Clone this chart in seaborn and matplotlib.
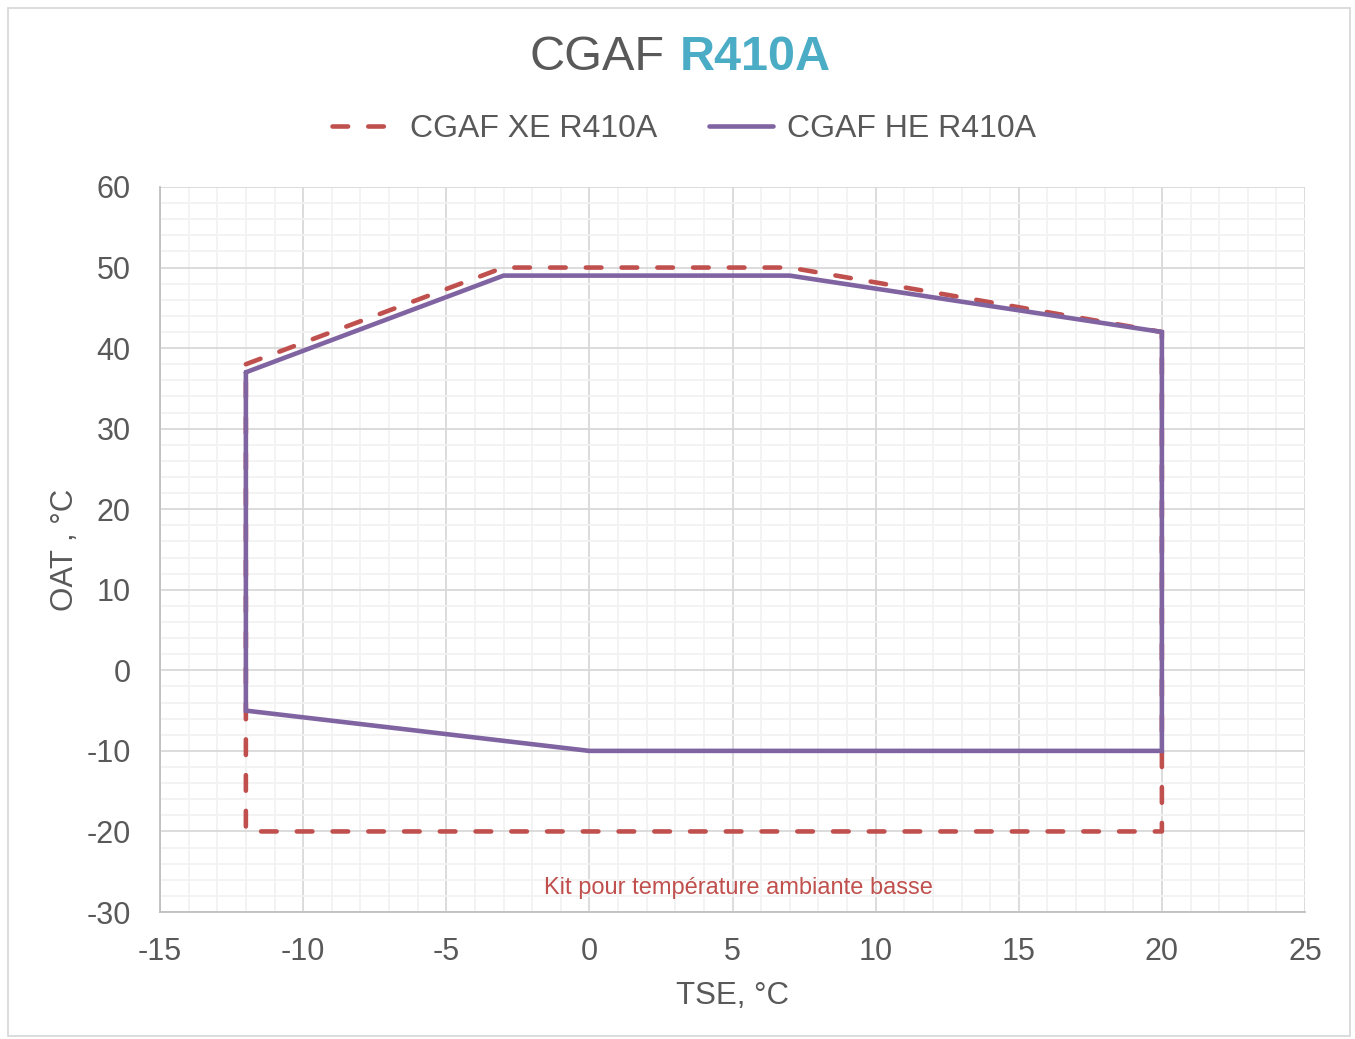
import matplotlib
matplotlib.use("Agg")
import matplotlib.pyplot as plt
from matplotlib.patches import Rectangle
from matplotlib.ticker import MultipleLocator
from matplotlib.lines import Line2D
import seaborn as sns
import pandas as pd

# Data
xe_label = "CGAF XE R410A"
he_label = "CGAF HE R410A"
xe_x = [-12, -3, 7, 20, 20, -12, -12]
xe_y = [38, 50, 50, 42, -20, -20, 38]
he_x = [-12, -3, 7, 20, 20, 0, -12, -12]
he_y = [37, 49, 49, 42, -10, -10, -5, 37]
x_ticks = [-15, -10, -5, 0, 5, 10, 15, 20, 25]
y_ticks = [-30, -20, -10, 0, 10, 20, 30, 40, 50, 60]
note_text = "Kit pour température ambiante basse"
note_x, note_y = 5.2, -27

df = pd.DataFrame({
    "x": xe_x + he_x,
    "y": xe_y + he_y,
    "series": [xe_label] * len(xe_x) + [he_label] * len(he_x),
})

sns.set_style("white")
plt.rcParams["font.family"] = ["Liberation Sans", "DejaVu Sans"]
plt.rcParams["axes.unicode_minus"] = False

grey = "#595959"
red = "#C0504D"
purple = "#8064A2"
LW = 3.3
DASH = (3.4, 4.4)

fig = plt.figure(figsize=(13.55, 10.39), dpi=100)
ax = fig.add_axes([160/1355, 1-912/1039, (1305-160)/1355, (912-187)/1039])

sns.lineplot(data=df, x="x", y="y", hue="series", style="series", units="series",
             sort=False, estimator=None, ax=ax,
             palette={xe_label: red, he_label: purple},
             dashes={xe_label: DASH, he_label: ""},
             linewidth=LW, legend=False)
lines = ax.get_lines()
for ln in lines:
    ln.set_dash_capstyle("round")
    ln.set_solid_capstyle("round")
    ln.set_solid_joinstyle("miter")
lines[0].set_zorder(3)
lines[1].set_zorder(4)

ax.set_xlim(x_ticks[0], x_ticks[-1])
ax.set_ylim(y_ticks[0], y_ticks[-1])
ax.set_xticks(x_ticks)
ax.set_yticks(y_ticks)
ax.xaxis.set_minor_locator(MultipleLocator(1))
ax.yaxis.set_minor_locator(MultipleLocator(2))
ax.grid(which="major", color="#D9D9D9", linewidth=1.3, zorder=1)
ax.grid(which="minor", color="#F2F2F2", linewidth=1.3, zorder=0)
ax.set_axisbelow(True)
ax.tick_params(axis="both", which="both", length=0, labelsize=22, labelcolor=grey)
ax.tick_params(axis="y", pad=21)
ax.tick_params(axis="x", pad=18)
for s in ["top", "right"]:
    ax.spines[s].set_visible(False)
for s in ["left", "bottom"]:
    ax.spines[s].set_color("#BFBFBF")
    ax.spines[s].set_linewidth(1.3)

ax.set_xlabel("TSE, °C", fontsize=22.5, color=grey, labelpad=10)
ax.set_ylabel("OAT , °C", fontsize=22.5, color=grey, labelpad=5)

ax.text(note_x, note_y, note_text, color=red, fontsize=17, ha="center", va="center")

# Title
fig.text(665/1355, 1-57/1039, "CGAF", fontsize=35, color=grey, ha="right", va="center")
fig.text(680/1355, 1-57/1039, "R410A", fontsize=35, color="#4BACC6", fontweight="bold",
         ha="left", va="center")

# Legend
h1 = Line2D([0], [0], color=red, lw=LW, linestyle=(0, DASH), dash_capstyle="round")
h2 = Line2D([0], [0], color=purple, lw=LW, solid_capstyle="round")
fig.legend([h1, h2], [xe_label, he_label], loc="center", bbox_to_anchor=(684/1355, 1-129/1039),
           ncol=2, frameon=False, fontsize=23, labelcolor=grey, handlelength=2.0,
           handletextpad=0.45, columnspacing=1.6)

# Outer border
fig.patches.append(Rectangle((8/1355, 3/1039), 1342/1355, 1028/1039, transform=fig.transFigure,
                             fill=False, edgecolor="#D9D9D9", linewidth=1.3))

fig.savefig("out.png", dpi=100)
